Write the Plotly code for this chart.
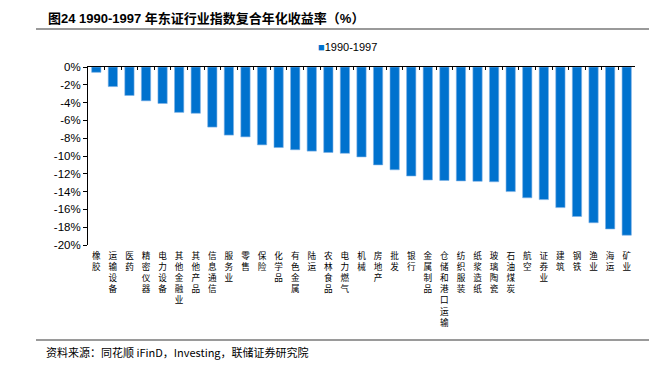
import plotly.graph_objects as go

categories = ["橡胶", "运输设备", "医药", "精密仪器", "电力设备", "其他金融业", "其他产品", "信息通信",
              "服务业", "零售", "保险", "化学品", "有色金属", "陆运", "农林食品", "电力燃气", "机械",
              "房地产", "批发", "银行", "金属制品", "仓储和港口运输", "纺织服装", "纸浆造纸", "玻璃陶瓷",
              "石油煤炭", "航空", "证券业", "建筑", "钢铁", "渔业", "海运", "矿业"]
values = [-0.6, -2.2, -3.2, -3.8, -4.1, -5.1, -5.2, -6.75, -7.65, -7.85, -8.75, -9.05, -9.3, -9.45,
          -9.6, -9.7, -10.1, -11.0, -11.55, -12.25, -12.7, -12.75, -12.8, -12.85, -12.9, -14.0, -14.7,
          -14.9, -15.8, -16.8, -17.5, -18.2, -18.9]
series_name = "1990-1997"
y_ticks = list(range(-20, 1, 2))
y_ticktext = [f"{v}%" for v in y_ticks]

# page body has an 8px default margin; work in reference-window coordinates
OFF = 8
W, H = 657 - OFF, 369 - OFF
PL, PT, PR, PB = 88, 67, 635, 245          # plot area in window pixels
L, T = PL - OFF, PT - OFF
R, B = W - (PR - OFF), H - (PB - OFF)
pw, ph = W - L - R, H - T - B
BAR_COLOR = "#0072CE"

def px(x):
    return (x - OFF - L) / pw

def py(y):
    return (H - B - (y - OFF)) / ph

ticktext = ["<br>".join(list(c)) for c in categories]

fig = go.Figure()
fig.add_trace(go.Bar(x=categories, y=values, name=series_name,
                     marker=dict(color=BAR_COLOR, line=dict(color="#7FB2E5", width=0.6)),
                     width=0.56, showlegend=False))
fig.add_trace(go.Bar(x=categories, y=[None] * len(categories), xaxis="x2", showlegend=False,
                     hoverinfo="skip"))

fig.update_layout(
    width=W, height=H,
    margin=dict(l=L, r=R, t=T, b=B, autoexpand=False),
    plot_bgcolor="white", paper_bgcolor="white",
    font=dict(family="Liberation Sans, Arial, sans-serif", color="black", size=11),
    bargap=0.44,
    showlegend=False,
    xaxis=dict(tickmode="array", tickvals=categories, ticktext=ticktext, automargin=False,
               tickangle=0, showline=False, ticks="", showgrid=False, ticklabelstandoff=4,
               tickfont=dict(family="Noto Sans CJK SC", size=8.6, color="black"),
               range=[-0.5, len(categories) - 0.5]),
    xaxis2=dict(overlaying="x", matches="x", side="top", anchor="y", automargin=False,
                showline=True, linecolor="black", linewidth=1,
                ticks="inside", ticklen=3, tickcolor="black", tickson="boundaries",
                showticklabels=False, showgrid=False,
                tickmode="array", tickvals=categories),
    yaxis=dict(range=[-20, 0], tickmode="array", tickvals=y_ticks, ticktext=y_ticktext,
               automargin=False,
               showline=True, linecolor="black", linewidth=1, ticks="outside", ticklen=4,
               tickcolor="black", showgrid=False, zeroline=False,
               tickfont=dict(family="Liberation Sans, Arial", size=11.5, color="black")),
)

# legend (drawn as text)
fig.add_annotation(text=f"<span style='color:{BAR_COLOR}'>■</span>{series_name}",
                   xref="paper", yref="paper", x=px(316), y=py(47), xanchor="left", yanchor="middle",
                   showarrow=False, font=dict(family="Liberation Sans, Arial", size=11, color="black"))
fig.add_annotation(text="<b>图24 1990-1997 年东证行业指数复合年化收益率（%）</b>",
                   xref="paper", yref="paper", x=px(46), y=py(18.5), xanchor="left", yanchor="middle",
                   showarrow=False,
                   font=dict(family="Liberation Sans, Noto Sans CJK SC", size=13, color="black"))
fig.add_annotation(text="资料来源：同花顺 iFinD，Investing，联储证券研究院",
                   xref="paper", yref="paper", x=px(44), y=py(352), xanchor="left", yanchor="middle",
                   showarrow=False, font=dict(family="Noto Sans CJK SC, Liberation Sans", size=11, color="black"))
fig.add_shape(type="line", xref="paper", yref="paper", x0=px(36), x1=px(657), y0=py(29), y1=py(29),
              line=dict(color="#9A9A9A", width=2))
fig.add_shape(type="line", xref="paper", yref="paper", x0=px(36), x1=px(657), y0=py(340), y1=py(340),
              line=dict(color="#9A9A9A", width=2))

fig.write_html("out.html")
